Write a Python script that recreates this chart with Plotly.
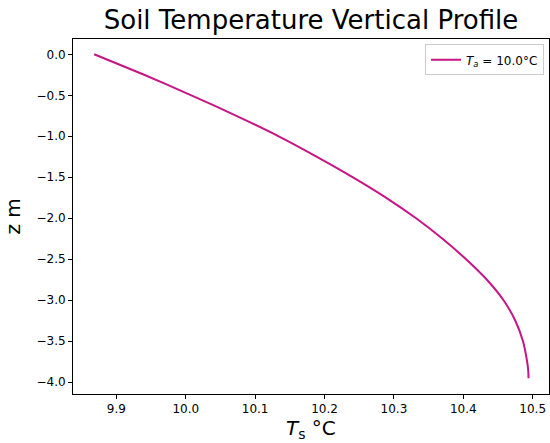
import plotly.graph_objects as go

# Data
depth_m = [0.0, -0.25, -0.5, -0.75, -1.0, -1.25, -1.5, -1.75, -2.0, -2.25, -2.5,
           -2.75, -3.0, -3.25, -3.5, -3.75, -3.85, -3.95]
soil_temp_c = [9.868, 9.940, 10.008, 10.073, 10.134, 10.189, 10.241, 10.289, 10.332,
               10.370, 10.404, 10.434, 10.458, 10.475, 10.486, 10.492, 10.4935, 10.494]
series_name = "<i>T<sub>a</sub></i> = 10.0°C"
x_ticks = [9.9, 10.0, 10.1, 10.2, 10.3, 10.4, 10.5]
y_ticks = [0.0, -0.5, -1.0, -1.5, -2.0, -2.5, -3.0, -3.5, -4.0]

FONT = "DejaVu Sans"
W, H = 550, 443
ML, MR, MT, MB = 73, 1, 39, 49

fig = go.Figure()
fig.add_trace(go.Scatter(
    x=soil_temp_c, y=depth_m, mode="lines", name=series_name,
    line=dict(color="#c71585", width=2, shape="spline", smoothing=0.6),
    showlegend=True,
))

axis_common = dict(
    showline=True, linecolor="black", linewidth=1, mirror=True,
    ticks="outside", ticklen=4, tickwidth=1, tickcolor="black",
    showgrid=False, zeroline=False,
    tickfont=dict(family=FONT, size=12, color="black"),
    tickformat=".1f",
)

fig.update_layout(
    width=W, height=H,
    margin=dict(l=ML, r=MR, t=MT, b=MB, pad=0),
    paper_bgcolor="white", plot_bgcolor="white",
    font=dict(family=FONT, color="black"),
    title=dict(
        text="Soil Temperature Vertical Profile",
        font=dict(family=FONT, size=26, color="black"),
        x=0.5, xref="paper", xanchor="center",
        y=1 - 20 / H, yref="container", yanchor="middle",
    ),
    xaxis=dict(range=[9.8375, 10.5235], tickvals=x_ticks, **axis_common),
    yaxis=dict(range=[-4.143, 0.1866], tickvals=y_ticks, **axis_common),
    showlegend=True,
    legend=dict(
        x=0.9895, xanchor="right", y=0.985, yanchor="top",
        bgcolor="rgba(255,255,255,0.8)", bordercolor="#cccccc", borderwidth=1,
        font=dict(family=FONT, size=12, color="black"),
    ),
    annotations=[
        dict(text="<i>T</i><sub>s</sub> °C", xref="paper", yref="paper",
             x=0.5, y=0, xanchor="center", yanchor="bottom", yshift=-50,
             showarrow=False, font=dict(family=FONT, size=20, color="black")),
        dict(text="z m", xref="paper", yref="paper", textangle=-90,
             x=0, y=0.5, xanchor="right", yanchor="middle", xshift=-47,
             showarrow=False, font=dict(family=FONT, size=20, color="black")),
    ],
)

fig.write_html("out.html")
